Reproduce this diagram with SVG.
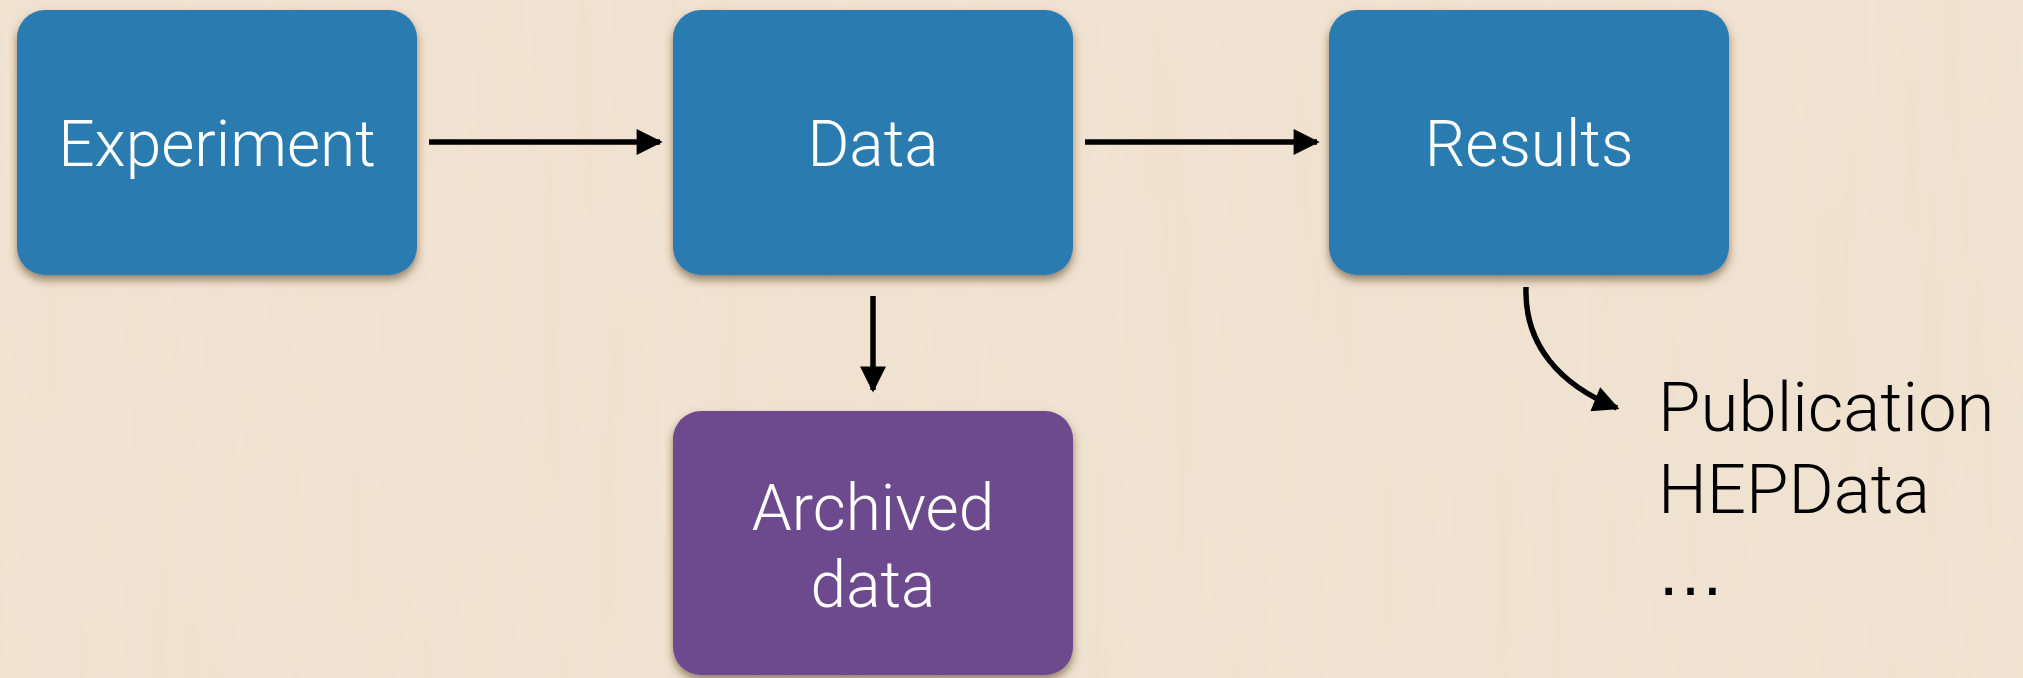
<svg xmlns="http://www.w3.org/2000/svg" width="2023" height="678" viewBox="0 0 2023 678">
  <style>
    .box { stroke: none; }
    .blue { fill: #2b7cb0; }
    .purple { fill: #6d4a8d; }
    .label { font-family: Roboto, "Liberation Sans", Arial, sans-serif; font-weight: 300; font-size: 64px; fill: #ffffff; text-anchor: middle; }
    .plain { font-family: Roboto, "Liberation Sans", Arial, sans-serif; font-weight: 300; font-size: 69px; fill: #000000; }
    .dots { font-family: "Liberation Sans", Arial, sans-serif; font-size: 69px; fill: #000000; }
    .conn { fill: none; stroke: #000000; stroke-width: 5.5; }
  </style>
  <defs>
    <filter id="shadow" x="-10%" y="-10%" width="120%" height="125%">
      <feDropShadow dx="0" dy="5" stdDeviation="4" flood-color="#4a2e12" flood-opacity="0.55"/>
    </filter>
    <filter id="grain" x="0" y="0" width="100%" height="100%">
      <feTurbulence type="fractalNoise" baseFrequency="0.035 0.002" numOctaves="3" seed="4" result="n"/>
      <feColorMatrix in="n" type="matrix" values="0 0 0 0 0.82  0 0 0 0 0.70  0 0 0 0 0.57  0 0 0 0.3 -0.05"/>
    </filter>
    <marker id="arrow" viewBox="0 0 10 10" refX="9" refY="5" markerUnits="userSpaceOnUse" markerWidth="27" markerHeight="26" orient="auto">
      <path d="M0,0 L10,5 L0,10 Z" fill="#000000"/>
    </marker>
  </defs>

  <rect x="0" y="0" width="2023" height="678" fill="#f1e3d1"/>
  <rect x="0" y="0" width="2023" height="678" filter="url(#grain)"/>

  <g id="node-experiment">
    <rect class="box blue" x="17" y="10" width="400" height="265" rx="28" filter="url(#shadow)"/>
    <text class="label" x="217" y="166">Experiment</text>
  </g>
  <g id="node-data">
    <rect class="box blue" x="673" y="10" width="400" height="265" rx="28" filter="url(#shadow)"/>
    <text class="label" x="873" y="166">Data</text>
  </g>
  <g id="node-results">
    <rect class="box blue" x="1329" y="10" width="400" height="265" rx="28" filter="url(#shadow)"/>
    <text class="label" x="1529" y="166">Results</text>
  </g>
  <g id="node-archived">
    <rect class="box purple" x="673" y="411" width="400" height="264" rx="28" filter="url(#shadow)"/>
    <text class="label" x="873" y="530" font-size="66">Archived</text>
    <text class="label" x="873" y="607" font-size="66">data</text>
  </g>
  <g id="node-outputs">
    <text class="plain" x="1658" y="431">Publication</text>
    <text class="plain" x="1658" y="513">HEPData</text>
    <text class="dots" x="1656" y="595">…</text>
  </g>

  <g id="connectors">
    <line class="conn" x1="429" y1="142" x2="660" y2="142" marker-end="url(#arrow)"/>
    <line class="conn" x1="1085" y1="142" x2="1317" y2="142" marker-end="url(#arrow)"/>
    <line class="conn" x1="873" y1="296" x2="873" y2="390" marker-end="url(#arrow)"/>
    <path class="conn" d="M1526,287 C1524,345 1560,385 1617,408" marker-end="url(#arrow)"/>
  </g>
</svg>
